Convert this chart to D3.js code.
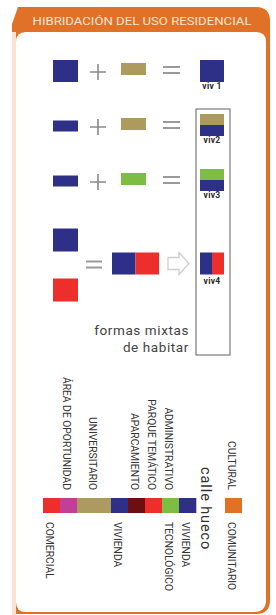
<!DOCTYPE html>
<html>
<head>
<meta charset="utf-8">
<script src="https://cdn.jsdelivr.net/npm/d3@7"></script>
<style>
  html, body { margin: 0; padding: 0; background: #fff; }
  svg { display: block; }
  text { font-family: Roboto, "DejaVu Sans", sans-serif; }
</style>
</head>
<body>
<div id="chart"></div>
<script>
// data
var title = "HIBRIDACIÓN DEL USO RESIDENCIAL";
var useColors = {
  vivienda: "#2e3087",
  universitario: "#ad9a5f",
  administrativo: "#7dbd43",
  comercial: "#ee2e2b",
  oportunidad: "#c13f98",
  aparcamiento: "#6d0f10",
  cultural: "#e07127"
};
var resultLabels = ["viv 1", "viv2", "viv3", "viv4"];
var firstTerm = ["vivienda", "vivienda", "vivienda", "vivienda"];
var secondTerm = ["universitario", "universitario", "administrativo", "comercial"];
var resultStack = [["vivienda"], ["universitario", "vivienda"], ["administrativo", "vivienda"], ["vivienda", "comercial"]];
var caption = ["formas mixtas", "de habitar"];

var stripUses = ["comercial", "oportunidad", "universitario", "vivienda", "aparcamiento", "comercial", "administrativo", "vivienda"];
var stripUnits = [1, 1, 2, 1, 1, 1, 1, 1];
var stripTopLabels = ["", "ÁREA DE OPORTUNIDAD", "UNIVERSITARIO", "", "APARCAMIENTO", "PARQUE TEMÁTICO", "ADMINISTRATIVO", ""];
var stripBottomLabels = ["COMERCIAL", "", "", "VIVIENDA", "", "", "TECNOLÓGICO", "VIVIENDA"];
var gapLabel = "calle hueco";
var endUse = "cultural";
var endTopLabel = "CULTURAL";
var endBottomLabel = "COMUNITARIO";

var W = 276, H = 615;
var orange = "#e07127", peach = "#fbe1cf";

var svg = d3.select("#chart").append("svg")
    .attr("width", W)
    .attr("height", H);

// frame
svg.append("path")
  .attr("fill", orange)
  .attr("d", "M18,7 H256 Q270,7 270,21 V600 Q270,614 256,614 H12 V24 Z");
svg.append("rect")
  .attr("x", 12).attr("y", 32).attr("width", 4).attr("height", 590)
  .attr("fill", peach);
svg.append("path")
  .attr("fill", "#fff")
  .attr("d", "M16,42 Q16,32 26,32 H256 Q266,32 266,42 V600 Q266,612 254,612 H26 Q16,612 16,602 Z");

svg.append("text")
  .attr("x", 142).attr("y", 25)
  .attr("text-anchor", "middle")
  .attr("font-size", 11.5)
  .attr("fill", "#fde3d2")
  .attr("textLength", 219)
  .attr("lengthAdjust", "spacingAndGlyphs")
  .text(title);

// equation rows
var rowPos = [0, 1, 2, 3.5];
var y = d3.scaleLinear().domain([0, 1]).range([71, 126]);
var g = svg.append("g");

function plus(cx, cy) {
  g.append("path")
    .attr("stroke", "#8a8a8a").attr("stroke-width", 1.6).attr("fill", "none")
    .attr("d", "M" + (cx - 8) + "," + cy + "h16M" + cx + "," + (cy - 8) + "v16");
}
function equals(x0, cy, w) {
  g.append("path")
    .attr("stroke", "#9a9a9a").attr("stroke-width", 1.8).attr("fill", "none")
    .attr("d", "M" + x0 + "," + (cy - 3) + "h" + w + "M" + x0 + "," + (cy + 3) + "h" + w);
}
function vivLabel(txt, cy) {
  g.append("text").attr("x", 212).attr("y", cy)
    .attr("text-anchor", "middle").attr("font-size", 8.5).attr("font-weight", "bold")
    .attr("letter-spacing", 0.3)
    .attr("fill", "#2a2a2a").text(txt);
}

resultLabels.forEach(function (lab, i) {
  var cy = y(rowPos[i]);
  var stack = resultStack[i];
  if (i < 3) {
    var hA = i === 0 ? 22 : 11;
    g.append("rect").attr("x", 53).attr("y", cy - hA / 2)
      .attr("width", 25).attr("height", hA).attr("fill", useColors[firstTerm[i]]);
    plus(98, cy + 1);
    g.append("rect").attr("x", 121).attr("y", cy - 8)
      .attr("width", 25).attr("height", 12).attr("fill", useColors[secondTerm[i]]);
    equals(163, cy - 1, 17);
    // stacked result
    var rh = 22 / stack.length;
    stack.forEach(function (u, k) {
      g.append("rect").attr("x", 200).attr("y", cy - 11 + k * rh + (i === 0 ? 0 : -1))
        .attr("width", 24).attr("height", rh).attr("fill", useColors[u]);
    });
    vivLabel(lab, cy + (i === 0 ? 18 : 17));
  } else {
    g.append("rect").attr("x", 53).attr("y", cy - 35)
      .attr("width", 25).attr("height", 23).attr("fill", useColors[firstTerm[i]]);
    g.append("rect").attr("x", 53).attr("y", cy + 15)
      .attr("width", 25).attr("height", 23).attr("fill", useColors[secondTerm[i]]);
    equals(86, cy + 1, 16);
    stack.forEach(function (u, k) {
      g.append("rect").attr("x", 112 + k * 23.5).attr("y", cy - 11)
        .attr("width", 23.5).attr("height", 22).attr("fill", useColors[u]);
      g.append("rect").attr("x", 200 + k * 12).attr("y", cy - 11)
        .attr("width", 12).attr("height", 22).attr("fill", useColors[u]);
    });
    // arrow
    g.append("path")
      .attr("fill", "#fff").attr("stroke", "#cfcfcf").attr("stroke-width", 1.3)
      .attr("d", "M168," + (cy - 6) + "H179V" + (cy - 11) + "L189," + cy + "L179," + (cy + 11) + "V" + (cy + 6) + "H168Z");
    vivLabel(lab, cy + 20);
  }
});

// box round the mixed forms
g.append("rect")
  .attr("x", 196).attr("y", 109).attr("width", 34).attr("height", 246)
  .attr("fill", "none").attr("stroke", "#7a7a7a").attr("stroke-width", 1.2);

g.selectAll("text.cap").data(caption).enter().append("text")
  .attr("class", "cap")
  .attr("x", 189)
  .attr("y", function (d, i) { return 335 + i * 17; })
  .attr("text-anchor", "end")
  .attr("font-size", 13.5)
  .attr("letter-spacing", 0.6)
  .attr("fill", "#444")
  .text(function (d) { return d; });

// strip of uses
var cum = [0];
stripUnits.forEach(function (u, i) { cum.push(cum[i] + u); });
var x = d3.scaleLinear().domain([0, d3.sum(stripUnits)]).range([43, 196]);
var stripY = 498, stripH = 15;
var strip = svg.append("g");

var segs = stripUses.map(function (u, i) {
  return { use: u, x0: x(cum[i]), x1: x(cum[i + 1]), top: stripTopLabels[i], bottom: stripBottomLabels[i] };
});
strip.selectAll("rect.seg").data(segs).enter().append("rect")
  .attr("class", "seg")
  .attr("x", function (d) { return d.x0; })
  .attr("y", stripY)
  .attr("width", function (d) { return d.x1 - d.x0 + 0.3; })
  .attr("height", stripH)
  .attr("fill", function (d) { return useColors[d.use]; });

var endX0 = 225, endX1 = 242;
strip.append("rect")
  .attr("x", endX0).attr("y", stripY).attr("width", endX1 - endX0).attr("height", stripH)
  .attr("fill", useColors[endUse]);

var labels = [];
segs.forEach(function (d) {
  var cx = (d.x0 + d.x1) / 2;
  if (d.top) labels.push({ t: d.top, cx: cx, pos: "top" });
  if (d.bottom) labels.push({ t: d.bottom, cx: cx, pos: "bottom" });
});
labels.push({ t: endTopLabel, cx: (endX0 + endX1) / 2, pos: "top" });
labels.push({ t: endBottomLabel, cx: (endX0 + endX1) / 2, pos: "bottom" });

strip.selectAll("text.lab").data(labels).enter().append("text")
  .attr("class", "lab")
  .attr("transform", function (d) {
    var ty = d.pos === "top" ? stripY - 8 : stripY + stripH + 9;
    return "translate(" + (d.cx - 1.5) + "," + ty + ") rotate(90)";
  })
  .attr("text-anchor", function (d) { return d.pos === "top" ? "end" : "start"; })
  .attr("dy", "0.35em")
  .attr("font-size", 10.3)
  .attr("fill", "#333")
  .text(function (d) { return d.t; });

strip.append("text")
  .attr("transform", "translate(206,467) rotate(90)")
  .attr("dy", "0.35em")
  .attr("font-size", 14.5)
  .attr("fill", "#333")
  .attr("letter-spacing", 0.9)
  .text(gapLabel);
</script>
</body>
</html>
